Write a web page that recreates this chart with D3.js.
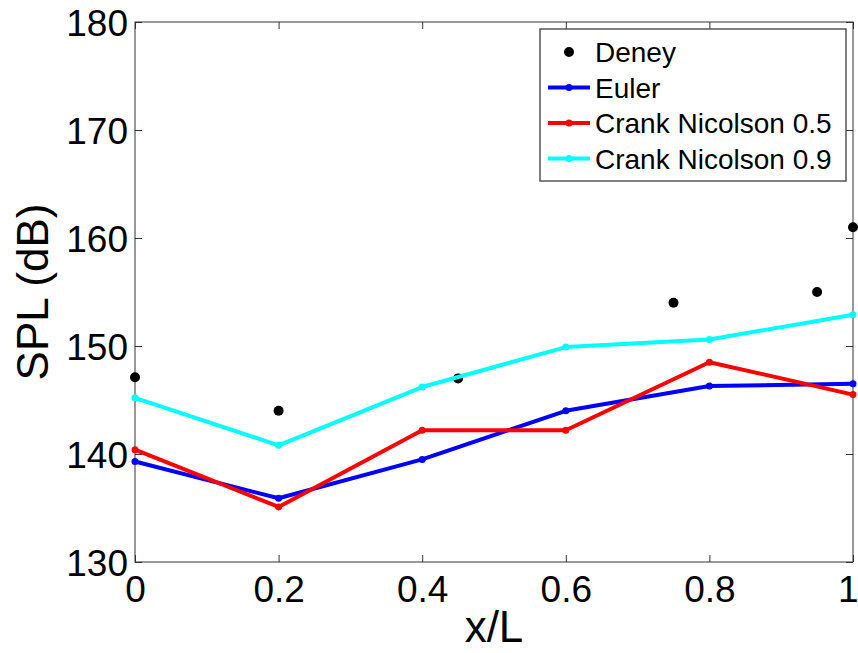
<!DOCTYPE html>
<html>
<head>
<meta charset="utf-8">
<script src="https://cdn.jsdelivr.net/npm/d3@7"></script>
<style>
  body { margin: 0; background: #fff; }
  svg { display: block; font-family: "Liberation Sans", Arial, sans-serif; }
</style>
</head>
<body>
<svg id="chart" width="858" height="653"></svg>
<script>
// data
let xPos = [0, 0.2, 0.4, 0.6, 0.8, 1];
let euler = [139.3, 135.9, 139.5, 144.0, 146.3, 146.5];
let crank05 = [140.4, 135.1, 142.2, 142.2, 148.5, 145.5];
let crank09 = [145.2, 140.8, 146.2, 149.9, 150.6, 152.9];
let deneyX = [0, 0.2, 0.45, 0.75, 0.95, 1];
let deneyY = [147.1, 144.0, 147.0, 154.0, 155.0, 161.0];
let xTicks = [0, 0.2, 0.4, 0.6, 0.8, 1];
let yTicks = [130, 140, 150, 160, 170, 180];
let seriesNames = ["Deney", "Euler", "Crank Nicolson 0.5", "Crank Nicolson 0.9"];
let seriesColors = ["#000000", "#0000ff", "#ff0000", "#00ffff"];

let plotLeft = 135, plotRight = 853, plotTop = 22, plotBottom = 562;

let svg = d3.select("#chart");

let x = d3.scaleLinear().domain([0, 1]).range([plotLeft, plotRight]);
let y = d3.scaleLinear().domain([130, 180]).range([plotBottom, plotTop]);

let axisColor = "#333";
let tickLen = 7;

// box axes with inward ticks
function styleAxis(g) {
  g.select(".domain").remove();
  g.selectAll(".tick line").attr("stroke", axisColor).attr("stroke-width", 1);
}

let xAxis = d3.axisBottom(x).tickValues(xTicks).tickSize(-tickLen)
  .tickFormat(d => d === 1 ? "1" : (d === 0 ? "0" : d3.format(".1f")(d)));
svg.append("g")
  .attr("transform", "translate(0," + plotBottom + ")")
  .call(xAxis)
  .call(styleAxis)
  .call(g => g.selectAll(".tick text")
    .attr("fill", "#000").attr("font-size", 37)
    .attr("font-family", "Liberation Sans, Arial, sans-serif")
    .attr("y", 14).attr("dy", "0.71em"))
  // last label sits at the window edge: keep it inside
  .call(g => g.selectAll(".tick text").filter(d => d === 1)
    .attr("text-anchor", "end").attr("x", 5));

svg.append("g")
  .attr("transform", "translate(0," + plotTop + ")")
  .call(d3.axisTop(x).tickValues(xTicks).tickSize(-tickLen).tickFormat(""))
  .call(styleAxis);

let yAxis = d3.axisLeft(y).tickValues(yTicks).tickSize(-tickLen).tickFormat(d3.format("d"));
svg.append("g")
  .attr("transform", "translate(" + plotLeft + ",0)")
  .call(yAxis)
  .call(styleAxis)
  .call(g => g.selectAll(".tick text")
    .attr("fill", "#000").attr("font-size", 37)
    .attr("font-family", "Liberation Sans, Arial, sans-serif")
    .attr("x", -7).attr("dy", "0.36em"));

svg.append("g")
  .attr("transform", "translate(" + plotRight + ",0)")
  .call(d3.axisRight(y).tickValues(yTicks).tickSize(-tickLen).tickFormat(""))
  .call(styleAxis);

svg.append("rect")
  .attr("x", plotLeft).attr("y", plotTop)
  .attr("width", plotRight - plotLeft).attr("height", plotBottom - plotTop)
  .attr("fill", "none").attr("stroke", axisColor).attr("stroke-width", 1);

// axis labels
svg.append("text")
  .attr("x", (plotLeft + plotRight) / 2).attr("y", 642)
  .attr("text-anchor", "middle").attr("font-size", 44)
  .text("x/L");

svg.append("text")
  .attr("transform", "translate(48," + ((plotTop + plotBottom) / 2) + ") rotate(-90)")
  .attr("text-anchor", "middle").attr("font-size", 44)
  .text("SPL (dB)");

// Deney points
svg.append("g").selectAll("circle")
  .data(deneyX)
  .enter()
  .append("circle")
  .attr("cx", d => x(d))
  .attr("cy", (d, i) => y(deneyY[i]))
  .attr("r", 5)
  .attr("fill", "#000");

// model lines
let line = d3.line()
  .x((d, i) => x(xPos[i]))
  .y(d => y(d));

[euler, crank05, crank09].forEach(function(vals, k) {
  let color = seriesColors[k + 1];
  svg.append("path")
    .datum(vals)
    .attr("d", line)
    .attr("fill", "none")
    .attr("stroke", color)
    .attr("stroke-width", 4)
    .attr("stroke-linejoin", "round");
  svg.append("g").selectAll("circle")
    .data(vals)
    .enter()
    .append("circle")
    .attr("cx", (d, i) => x(xPos[i]))
    .attr("cy", d => y(d))
    .attr("r", 3.5)
    .attr("fill", color);
});

// legend
let legend = svg.append("g");
legend.append("rect")
  .attr("x", 540).attr("y", 29)
  .attr("width", 306).attr("height", 152)
  .attr("fill", "#fff").attr("stroke", "#555").attr("stroke-width", 1.5);

let rowY = [52, 87.5, 123, 158.5];
seriesNames.forEach(function(name, i) {
  let g = legend.append("g").attr("transform", "translate(0," + rowY[i] + ")");
  if (i === 0) {
    g.append("circle").attr("cx", 569).attr("cy", 0).attr("r", 5).attr("fill", "#000");
  } else {
    g.append("line").attr("x1", 548).attr("x2", 590)
      .attr("stroke", seriesColors[i]).attr("stroke-width", 4);
    g.append("circle").attr("cx", 569).attr("cy", 0).attr("r", 3.5).attr("fill", seriesColors[i]);
  }
  g.append("text")
    .attr("x", 595).attr("dy", "0.36em")
    .attr("font-size", 28)
    .text(name);
});
</script>
</body>
</html>
